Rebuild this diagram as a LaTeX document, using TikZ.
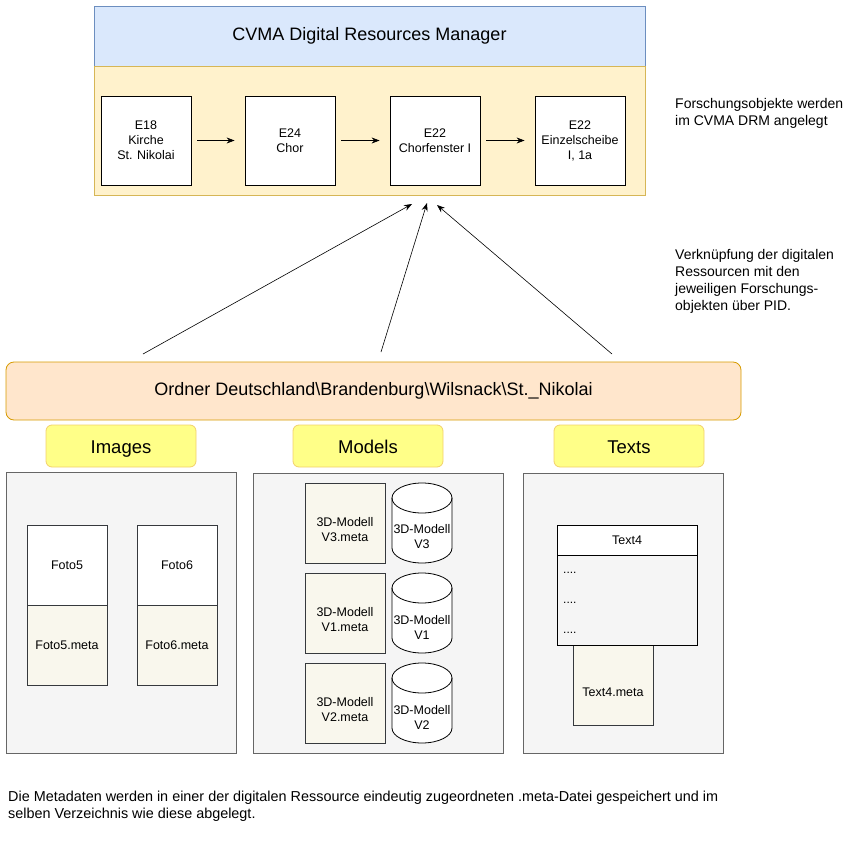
\documentclass[tikz,border=0pt]{standalone}
\usepackage{fontspec}
\setmainfont{Liberation Sans}
\usepackage{tikz}
\usepackage{xcolor}
\usetikzlibrary{arrows.meta}
\definecolor{drmblue}{HTML}{DAE8FC}
\definecolor{drmbluedraw}{HTML}{6C8EBF}
\definecolor{drmyellow}{HTML}{FFF2CC}
\definecolor{drmyellowdraw}{HTML}{D6B656}
\definecolor{folderfill}{HTML}{FFE6CC}
\definecolor{folderdraw}{HTML}{D79B00}
\definecolor{notefill}{HTML}{FFFF88}
\definecolor{notedraw}{HTML}{F2D16B}
\definecolor{groupfill}{HTML}{F5F5F5}
\definecolor{groupdraw}{HTML}{666666}
\definecolor{metafill}{HTML}{F9F7ED}
\definecolor{metadraw}{HTML}{36393D}
\tikzset{
    base-box/.style = {rectangle, inner sep=0pt, align=center, line width=0.8pt},
    head-box/.style = {base-box, draw=drmbluedraw, fill=drmblue, minimum width=551pt, minimum height=60pt, font=\fontsize{18}{21.6}\selectfont},
    body-box/.style = {base-box, draw=drmyellowdraw, fill=drmyellow, minimum width=551pt, minimum height=129pt},
    entity-box/.style = {base-box, draw=black, fill=white, minimum width=90pt, minimum height=89pt, font=\fontsize{12.5}{15}\selectfont},
    flow-arrow/.style = {-{Stealth[length=8pt,width=6pt]}, line width=0.8pt, shorten <=6pt, shorten >=10pt},
    pid-arrow/.style = {-{Stealth[length=8pt,width=6pt]}, line width=0.6pt},
    note-text/.style = {anchor=west, align=left, inner sep=0pt, font=\fontsize{14}{17}\selectfont},
    folder-bar/.style = {base-box, draw=folderdraw, fill=folderfill, rounded corners=8pt, minimum width=735pt, minimum height=58pt, font=\fontsize{18}{21.6}\selectfont},
    type-label/.style = {base-box, draw=notedraw, fill=notefill, rounded corners=6pt, minimum width=150pt, minimum height=42pt, text height=15pt, text depth=1pt, font=\fontsize{18.5}{22}\selectfont},
    group-box/.style = {base-box, draw=groupdraw, fill=groupfill, minimum height=281pt},
    file-box/.style = {base-box, draw=metadraw, fill=white, minimum width=80pt, minimum height=80pt, font=\fontsize{12.5}{15}\selectfont},
    meta-box/.style = {file-box, fill=metafill},
    low-text/.style = {label={[db-text, yshift=-7pt]center:#1}},
    model-db/.style = {draw=black, fill=white, line width=0.8pt},
    db-text/.style = {align=center, inner sep=0pt, font=\fontsize{12.5}{15}\selectfont},
    dots-text/.style = {anchor=west, inner sep=0pt, font=\fontsize{12}{14}\selectfont},
}
\begin{document}
\begin{tikzpicture}[x=1pt,y=-1pt]
\useasboundingbox (0,0) rectangle (855,846);

% CVMA DRM
\node [head-box] (drm) at (369.5,36) {CVMA Digital Resources Manager};
\node [body-box] (drm-body) at (369.5,130.5) {};
\node [entity-box] (e18) at (146,140.5) {E18\\Kirche\\St. Nikolai};
\node [entity-box] (e24) at (290,140.5) {E24\\Chor};
\node [entity-box] (e22) at (435,140.5) {E22\\Chorfenster I};
\node [entity-box] (e22-pane) at (580,140.5) {E22\\Einzelscheibe\\I, 1a};
\draw [flow-arrow] (e18) -- (e24);
\draw [flow-arrow] (e24) -- (e22);
\draw [flow-arrow] (e22) -- (e22-pane);

\node [note-text] (drm-note) at (675,113.5) {Forschungsobjekte werden\\im CVMA DRM angelegt};
\node [note-text] (pid-note) at (675,281) {Verknüpfung der digitalen\\Ressourcen mit den\\jeweiligen Forschungs-\\objekten über PID.};

% Ordner
\node [folder-bar] (folder) at (373.5,391) {Ordner Deutschland\textbackslash Brandenburg\textbackslash Wilsnack\textbackslash St.\_Nikolai};
\coordinate (pid-images) at (143,354);
\coordinate (pid-models) at (381,352);
\coordinate (pid-texts) at (612,354);
\coordinate (hit-images) at (412,204);
\coordinate (hit-models) at (427,203);
\coordinate (hit-texts) at (437,205);
\draw [pid-arrow] (pid-images) -- (hit-images);
\draw [pid-arrow] (pid-models) -- (hit-models);
\draw [pid-arrow] (pid-texts) -- (hit-texts);

% Images
\node [type-label] (images-label) at (121,446) {Images};
\node [group-box, minimum width=230pt] (images) at (121,612.5) {};
\node [file-box] (foto5) at (67,565) {Foto5};
\node [meta-box] (foto5-meta) at (67,645) {Foto5.meta};
\node [file-box] (foto6) at (177,565) {Foto6};
\node [meta-box] (foto6-meta) at (177,645) {Foto6.meta};

% Models
\node [type-label] (models-label) at (368,446) {Models};
\node [group-box, minimum width=250pt, minimum height=280pt] (models) at (378,613) {};
\foreach \y in {523,613,703} {
    \draw [model-db] (392,\y-25) -- (392,\y+25)
        arc[start angle=180, end angle=0, x radius=30, y radius=15]
        -- (452,\y-25) arc[start angle=0, end angle=-180, x radius=30, y radius=15] -- cycle;
    \draw [model-db, fill=none] (392,\y-25) arc[start angle=180, end angle=0, x radius=30, y radius=15];
}
\node [meta-box, low-text={3D-Modell\\V3.meta}] (v3-meta) at (345,523) {};
\node [db-text] (v3) at (422,537) {3D-Modell\\V3};
\node [meta-box, low-text={3D-Modell\\V1.meta}] (v1-meta) at (345,613) {};
\node [db-text] (v1) at (422,627) {3D-Modell\\V1};
\node [meta-box, low-text={3D-Modell\\V2.meta}] (v2-meta) at (345,703) {};
\node [db-text] (v2) at (422,717) {3D-Modell\\V2};

% Texts
\node [type-label] (texts-label) at (629,446) {Texts};
\node [group-box, minimum width=200pt, minimum height=280pt] (texts) at (623,613) {};
\node [meta-box, low-text={Text4.meta}] (text4-meta) at (613,685) {};
\node [file-box, minimum width=140pt, minimum height=90pt, fill=groupfill, draw=black] (text4-body) at (627,600) {};
\node [file-box, minimum width=140pt, minimum height=30pt, draw=black] (text4) at (627,540) {Text4};
\node [dots-text] (dots-a) at (563,573) {....};
\node [dots-text] (dots-b) at (563,603) {....};
\node [dots-text] (dots-c) at (563,633) {....};

% bottom
\node [note-text, font=\fontsize{14.4}{17}\selectfont] (meta-note) at (8,806.5) {Die Metadaten werden in einer der digitalen Ressource eindeutig zugeordneten .meta-Datei gespeichert und im\\selben Verzeichnis wie diese abgelegt.};
\end{tikzpicture}
\end{document}
